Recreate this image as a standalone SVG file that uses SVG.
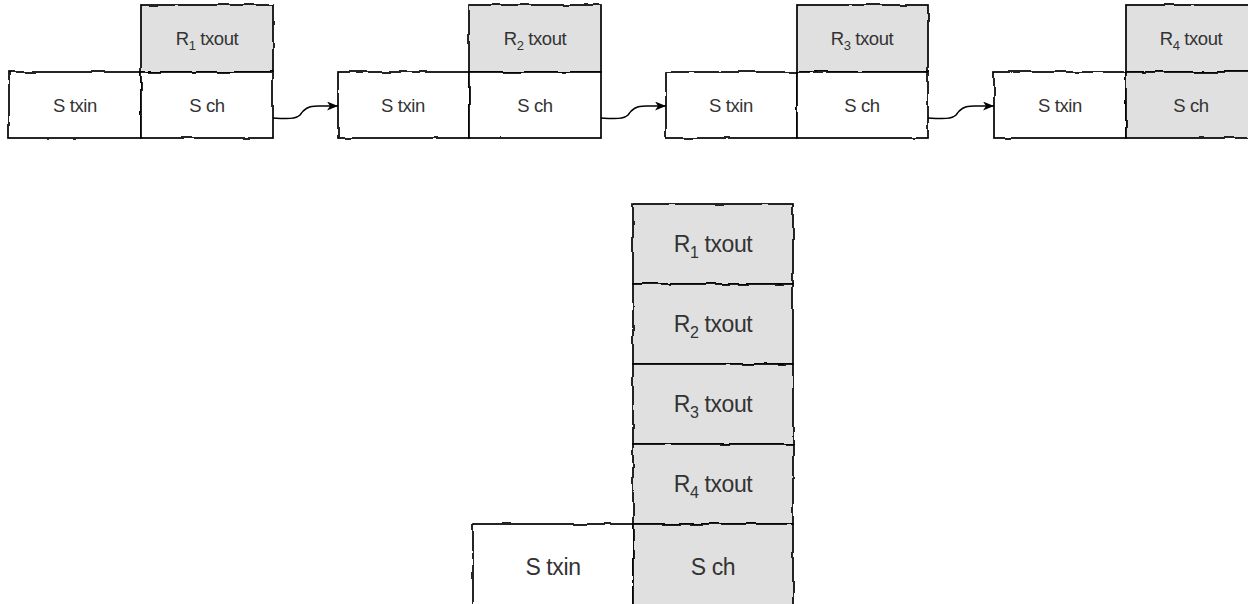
<svg xmlns="http://www.w3.org/2000/svg" width="1248" height="604" viewBox="0 0 1248 604">
  <defs>
    <!-- slight wobble to give the outlines a hand-drawn feel -->
    <filter id="sketch" x="-5%" y="-5%" width="110%" height="110%">
      <feTurbulence type="fractalNoise" baseFrequency="0.05" numOctaves="2" seed="3" result="n"/>
      <feDisplacementMap in="SourceGraphic" in2="n" scale="3" xChannelSelector="R" yChannelSelector="G"/>
    </filter>
    <marker id="arrow" markerWidth="12" markerHeight="10" refX="11" refY="4.5" orient="auto" markerUnits="userSpaceOnUse">
      <path d="M0,0 L11,4.5 L0,9 L3,4.5 Z" fill="#000"/>
    </marker>
    <style>
      .cell { stroke: #000; stroke-width: 1.7; filter: url(#sketch); }
      .w { fill: #fff; }
      .g { fill: #e0e0e0; }
      .t { font-family: "Liberation Sans", Arial, sans-serif; fill: #333; text-anchor: middle; letter-spacing: -0.4px; }
      .s { font-size: 18.5px; }
      .b { font-size: 23px; }
      .conn { fill: none; stroke: #000; stroke-width: 1.5; marker-end: url(#arrow); }
    </style>
  </defs>
  <rect width="1248" height="604" fill="#fff"/>

  <!-- top row: four transaction blocks -->
  <g id="n1-out"><rect class="cell g" x="141" y="5" width="132" height="67"/><text class="t s" x="207" y="45">R<tspan font-size="13" dy="5">1</tspan><tspan dy="-5"> txout</tspan></text></g>
  <g id="n1-in"><rect class="cell w" x="9" y="72" width="132" height="66"/><text class="t s" x="75" y="112">S txin</text></g>
  <g id="n1-ch"><rect class="cell w" x="141" y="72" width="132" height="66"/><text class="t s" x="207" y="112">S ch</text></g>

  <g id="n2-out"><rect class="cell g" x="469" y="5" width="132" height="67"/><text class="t s" x="535" y="45">R<tspan font-size="13" dy="5">2</tspan><tspan dy="-5"> txout</tspan></text></g>
  <g id="n2-in"><rect class="cell w" x="338" y="72" width="131" height="66"/><text class="t s" x="403" y="112">S txin</text></g>
  <g id="n2-ch"><rect class="cell w" x="469" y="72" width="132" height="66"/><text class="t s" x="535" y="112">S ch</text></g>

  <g id="n3-out"><rect class="cell g" x="797" y="5" width="131" height="67"/><text class="t s" x="862" y="45">R<tspan font-size="13" dy="5">3</tspan><tspan dy="-5"> txout</tspan></text></g>
  <g id="n3-in"><rect class="cell w" x="666" y="72" width="131" height="66"/><text class="t s" x="731" y="112">S txin</text></g>
  <g id="n3-ch"><rect class="cell w" x="797" y="72" width="131" height="66"/><text class="t s" x="862" y="112">S ch</text></g>

  <g id="n4-out"><rect class="cell g" x="1126" y="5" width="132" height="67"/><text class="t s" x="1191" y="45">R<tspan font-size="13" dy="5">4</tspan><tspan dy="-5"> txout</tspan></text></g>
  <g id="n4-in"><rect class="cell w" x="994" y="72" width="132" height="66"/><text class="t s" x="1060" y="112">S txin</text></g>
  <g id="n4-ch"><rect class="cell g" x="1126" y="72" width="132" height="66"/><text class="t s" x="1191" y="112">S ch</text></g>

  <!-- links between the blocks -->
  <g id="connectors">
    <path class="conn" d="M273,118 C288,119 296,119 300,115 C304,109 308,106 318,106 L338,106"/>
    <path class="conn" d="M601,118 C616,119 624,119 628,115 C632,109 636,106 646,106 L666,106"/>
    <path class="conn" d="M928,118 C944,119 952,119 956,115 C960,109 964,106 974,106 L994,106"/>
  </g>

  <!-- bottom: merged stack -->
  <g id="m-r1"><rect class="cell g" x="633" y="204" width="160" height="80"/><text class="t b" x="713" y="252">R<tspan font-size="16" dy="6">1</tspan><tspan dy="-6"> txout</tspan></text></g>
  <g id="m-r2"><rect class="cell g" x="633" y="284" width="160" height="80"/><text class="t b" x="713" y="332">R<tspan font-size="16" dy="6">2</tspan><tspan dy="-6"> txout</tspan></text></g>
  <g id="m-r3"><rect class="cell g" x="633" y="364" width="160" height="80"/><text class="t b" x="713" y="412">R<tspan font-size="16" dy="6">3</tspan><tspan dy="-6"> txout</tspan></text></g>
  <g id="m-r4"><rect class="cell g" x="633" y="444" width="160" height="80"/><text class="t b" x="713" y="492">R<tspan font-size="16" dy="6">4</tspan><tspan dy="-6"> txout</tspan></text></g>
  <g id="m-in"><rect class="cell w" x="473" y="524" width="160" height="84"/><text class="t b" x="553" y="575">S txin</text></g>
  <g id="m-ch"><rect class="cell g" x="633" y="524" width="160" height="84"/><text class="t b" x="713" y="575">S ch</text></g>
</svg>
